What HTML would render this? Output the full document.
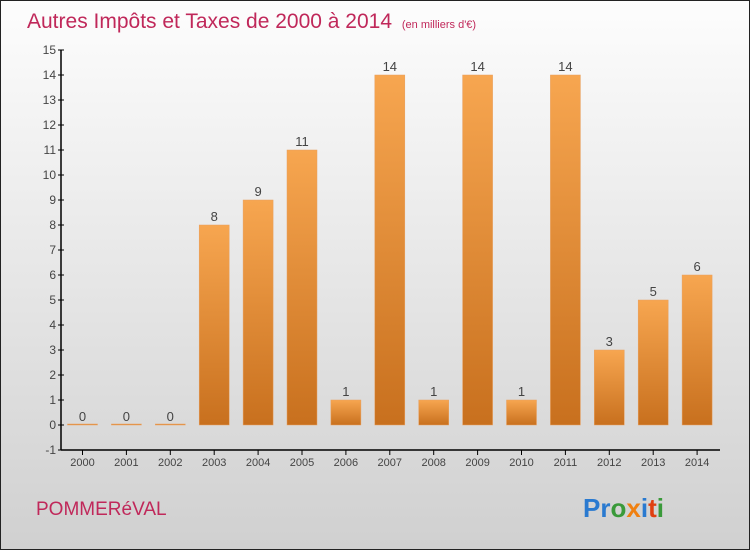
<!DOCTYPE html>
<html><head><meta charset="utf-8"><style>
body{margin:0;}
#wrap{width:750px;height:550px;position:relative;overflow:hidden;}
svg text{font-family:"Liberation Sans",sans-serif;}
</style></head><body>
<div id="wrap">
<svg id="chart" width="750" height="550" xmlns="http://www.w3.org/2000/svg">
<defs>
<linearGradient id="bg" x1="0" y1="0" x2="0" y2="1"><stop offset="0" stop-color="#fdfdfd"/><stop offset="1" stop-color="#d0d0d0"/></linearGradient>
<linearGradient id="bar" x1="0" y1="0" x2="0" y2="1"><stop offset="0" stop-color="#f7a650"/><stop offset="1" stop-color="#c8701e"/></linearGradient>
</defs>
<rect x="0.5" y="0.5" width="749" height="549" fill="url(#bg)" stroke="#222"/>
<text x="27" y="28" font-size="21" fill="#c0285a">Autres Impôts et Taxes de 2000 à 2014 <tspan font-size="11" dx="4">(en milliers d'€)</tspan></text>
<g id="plot"></g>
<text x="36" y="515" font-size="19" fill="#c0285a">POMMERéVAL</text>
<text x="583" y="517" font-size="26" font-weight="bold"><tspan fill="#2a7ad0">Pr</tspan><tspan fill="#3a9a3a">o</tspan><tspan fill="#f08010">x</tspan><tspan fill="#2a7ad0">i</tspan><tspan fill="#e04010">t</tspan><tspan fill="#3a9a3a">i</tspan></text>
</svg>
</div>
<script>
const categories=["2000","2001","2002","2003","2004","2005","2006","2007","2008","2009","2010","2011","2012","2013","2014"];
const values=[0,0,0,8,9,11,1,14,1,14,1,14,3,5,6];
const yTicks=[-1,0,1,2,3,4,5,6,7,8,9,10,11,12,13,14,15];
const NS="http://www.w3.org/2000/svg";
const g=document.getElementById('plot');
const y=v=>425-v*25;
const x=i=>82.5+i*43.9;
function mk(t,a){const e=document.createElementNS(NS,t);for(const k in a)e.setAttribute(k,a[k]);g.appendChild(e);return e;}
let ax=mk('line',{x1:61,y1:y(15),x2:61,y2:y(-1),stroke:'#000','stroke-width':1.5});


let xa=mk('line',{x1:61,y1:y(-1),x2:720,y2:y(-1),stroke:'#000','stroke-width':1.5});


yTicks.forEach(v=>{
 let tk=mk('line',{x1:58,y1:y(v),x2:64,y2:y(v),stroke:'#000'});
 
 
 let t=mk('text',{x:56,y:y(v)+4,'font-size':12,'text-anchor':'end',fill:'#444'});
 t.textContent=v;
 
 
});
categories.forEach((c,i)=>{
 const cx=x(i);
 let tk=mk('line',{x1:cx,y1:y(-1),x2:cx,y2:y(-1)+5,stroke:'#000'});
 
 
 let t=mk('text',{x:cx,y:y(-1)+16,'font-size':11,'text-anchor':'middle',fill:'#444'});
 t.textContent=c;
 
 
 const v=values[i];
 const h=Math.max(y(0)-y(v),1);
 let b=mk('rect',{x:cx-15,y:y(0)-h,width:30,height:h,fill:'url(#bar)',stroke:'#e8a060','stroke-width':0.5});
 
 
 let l=mk('text',{x:cx,y:y(v)-4,'font-size':13,'text-anchor':'middle',fill:'#444'});
 l.textContent=v;
 
 
});
</script>
</body></html>
